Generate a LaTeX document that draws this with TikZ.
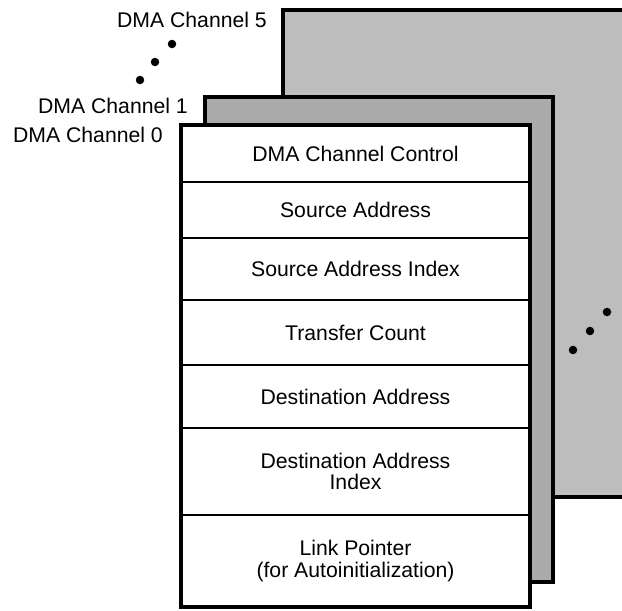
\documentclass[tikz,border=0pt]{standalone}
\usepackage{fontspec}
\setmainfont{Liberation Sans}
\usetikzlibrary{positioning}
\definecolor{backgray}{HTML}{BDBDBD}
\definecolor{midgray}{HTML}{ABABAB}

\begin{document}
\begin{tikzpicture}[
  x=1pt, y=-1pt,
  panel/.style={draw=black, line width=4pt},
  regbox/.style={rectangle, draw=black, fill=white, line width=1.5pt, outer sep=0pt, inner sep=0pt, minimum width=349pt, align=center, font=\fontsize{21.2}{21.5}\selectfont},
  chlabel/.style={anchor=east, inner sep=0pt, font=\fontsize{21.2}{21.5}\selectfont},
  dotmark/.style={circle, fill=black, inner sep=0pt, minimum size=8.5pt}
]
  \useasboundingbox (0,0) rectangle (622,611);

  % channel 5 and channel 1 sheets behind
  \fill[backgray] (283,10) rectangle (622,497);
  \draw[panel] (622,10) -- (283,10) -- (283,497) -- (622,497);
  \filldraw[panel, fill=midgray] (205,97) rectangle (553,582);

  % channel 0 registers
  \node[regbox, minimum height=57pt, anchor=north west] (ctl) at (181,125) {DMA Channel Control};
  \node[regbox, minimum height=56pt, below=0pt of ctl] (src) {Source Address};
  \node[regbox, minimum height=62pt, below=0pt of src] (srcidx) {Source Address Index};
  \node[regbox, minimum height=65pt, below=0pt of srcidx] (cnt) {Transfer Count};
  \node[regbox, minimum height=63pt, below=0pt of cnt] (dst) {Destination Address};
  \node[regbox, minimum height=87pt, below=0pt of dst] (dstidx) {Destination Address\\Index};
  \node[regbox, minimum height=92pt, below=0pt of dstidx] (link) {Link Pointer\\(for Autoinitialization)};
  \draw[panel] (ctl.north west) rectangle (link.south east);

  \node[chlabel] (ch5) at (267,20) {DMA Channel 5};
  \node[chlabel] (ch1) at (188,105.5) {DMA Channel 1};
  \node[chlabel] (ch0) at (163,135) {DMA Channel 0};

  \node[dotmark] (ld1) at (172,44) {};
  \node[dotmark] (ld2) at (155,62) {};
  \node[dotmark] (ld3) at (140,80) {};
  \node[dotmark] (rd1) at (607,312) {};
  \node[dotmark] (rd2) at (590,331) {};
  \node[dotmark] (rd3) at (573,350) {};
\end{tikzpicture}
\end{document}
